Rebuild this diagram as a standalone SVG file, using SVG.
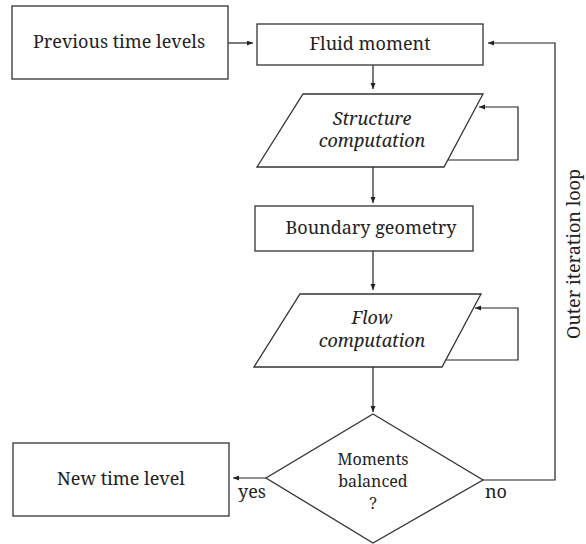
<svg xmlns="http://www.w3.org/2000/svg" width="586" height="544" viewBox="0 0 586 544">
<defs>
<marker id="ah" markerUnits="userSpaceOnUse" markerWidth="7" markerHeight="6" refX="6" refY="2.5" orient="auto">
<path d="M0,0 L6,2.5 L0,5 z" fill="#222"/>
</marker>
<style>
.shape{fill:#fff;stroke:#333;stroke-width:1.3}
.t{font-family:"Noto Serif","DejaVu Serif",serif;font-size:18px;fill:#222;text-anchor:middle}
.i{font-style:italic}
.d{font-size:16px}
.c{fill:none;stroke:#222;stroke-width:1.2}
</style>
</defs>
<rect width="586" height="544" fill="#fff"/>
<g id="connectors">
<line class="c" x1="228" y1="43" x2="253" y2="43" marker-end="url(#ah)"/>
<line class="c" x1="373" y1="65" x2="373" y2="89" marker-end="url(#ah)"/>
<polyline class="c" points="447,160 518,160 518,107 479,107" marker-end="url(#ah)"/>
<line class="c" x1="373" y1="167" x2="373" y2="203" marker-end="url(#ah)"/>
<line class="c" x1="373" y1="251" x2="373" y2="290" marker-end="url(#ah)"/>
<polyline class="c" points="444,360 518,360 518,308 475,308" marker-end="url(#ah)"/>
<line class="c" x1="373" y1="367" x2="373" y2="412" marker-end="url(#ah)"/>
<line class="c" x1="266" y1="478" x2="233" y2="478" marker-end="url(#ah)"/>
<polyline class="c" points="483,480 555,480 555,43 488,43" marker-end="url(#ah)"/>
</g>
<g id="previous">
<rect class="shape" x="12" y="6" width="216" height="73"/>
<text class="t" x="119" y="48">Previous time levels</text>
</g>
<g id="fluid">
<rect class="shape" x="257" y="24" width="226" height="41"/>
<text class="t" x="370" y="50">Fluid moment</text>
</g>
<g id="structure">
<polygon class="shape" points="303,94 483,94 444,167 257,167"/>
<text class="t i" x="372" y="125">Structure</text>
<text class="t i" x="372" y="147">computation</text>
</g>
<g id="boundary">
<rect class="shape" x="255" y="206" width="218" height="45"/>
<text class="t" x="371" y="234">Boundary geometry</text>
</g>
<g id="flow">
<polygon class="shape" points="300,294 481,294 442,367 254,367"/>
<text class="t i" x="372" y="324">Flow</text>
<text class="t i" x="372" y="347">computation</text>
</g>
<g id="decision">
<polygon class="shape" points="373,414 483,480 373,543 266,478"/>
<text class="t d" x="373" y="465">Moments</text>
<text class="t d" x="373" y="487">balanced</text>
<text class="t d" x="373" y="509">?</text>
</g>
<g id="newtime">
<rect class="shape" x="13" y="443" width="216" height="73"/>
<text class="t" x="121" y="485">New time level</text>
</g>
<g id="labels">
<text class="t" x="252" y="498">yes</text>
<text class="t" x="496" y="498">no</text>
<text class="t" x="0" y="0" font-size="16" transform="translate(580,254) rotate(-90)">Outer iteration loop</text>
</g>
</svg>
